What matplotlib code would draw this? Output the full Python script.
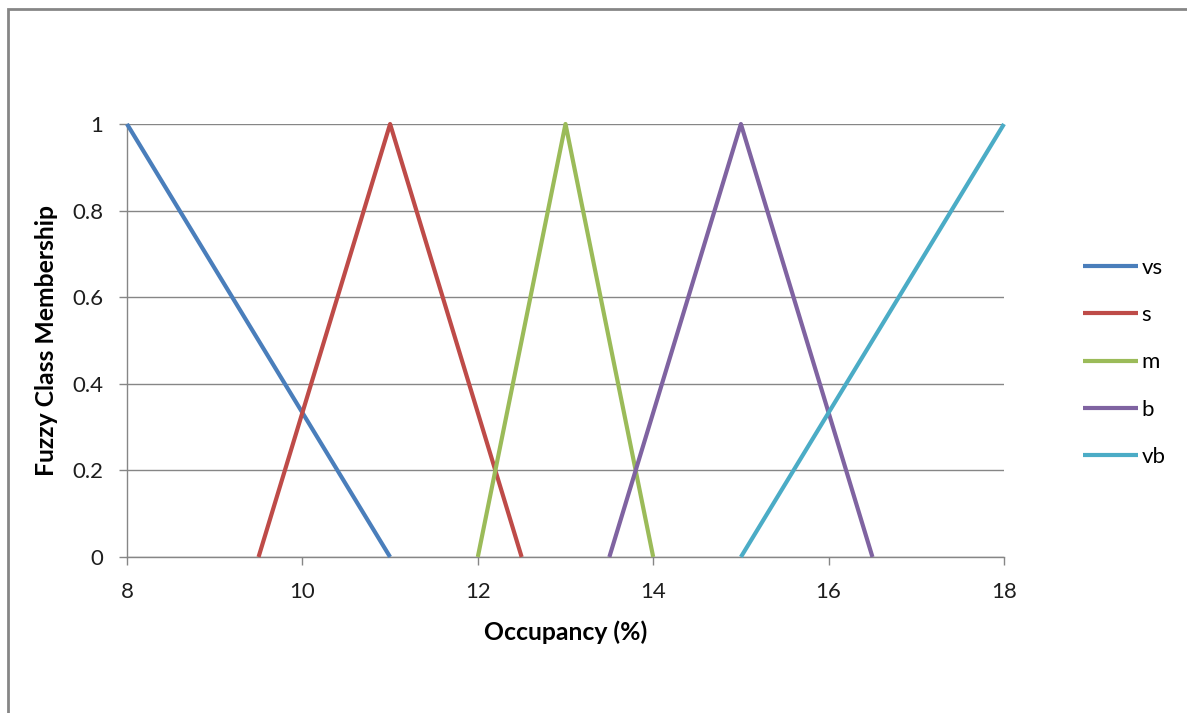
import matplotlib.pyplot as plt
from matplotlib.patches import Rectangle

# membership functions of the occupancy classes (breakpoints)
vs_x = [8, 11]
vs_y = [1, 0]
s_x = [9.5, 11, 12.5]
s_y = [0, 1, 0]
m_x = [12, 13, 14]
m_y = [0, 1, 0]
b_x = [13.5, 15, 16.5]
b_y = [0, 1, 0]
vb_x = [15, 18]
vb_y = [0, 1]

labels = ['vs', 's', 'm', 'b', 'vb']
colors = ['#4a7ebb', '#be4b48', '#9bbb59', '#7f63a1', '#4bacc6']
x_ticks = [8, 10, 12, 14, 16, 18]
y_ticks = [0, 0.2, 0.4, 0.6, 0.8, 1]
y_ticklabels = ['0', '0.2', '0.4', '0.6', '0.8', '1']

plt.rcParams['font.family'] = ['Lato', 'DejaVu Sans']
W, H = 1187, 713
fig = plt.figure(figsize=(W / 100, H / 100), dpi=100)
ax = fig.add_axes([127 / W, 1 - 557 / H, (1004 - 127) / W, (557 - 124) / H])

grey = '#868686'
series = [(vs_x, vs_y), (s_x, s_y), (m_x, m_y), (b_x, b_y), (vb_x, vb_y)]
for (xs, ys), lab, col in zip(series, labels, colors):
    ax.plot(xs, ys, color=col, lw=3, label=lab, solid_capstyle='butt', clip_on=False, zorder=3)

ax.set_xlim(8, 18)
ax.set_ylim(0, 1)
ax.set_xticks(x_ticks)
ax.set_yticks(y_ticks)
ax.set_yticklabels(y_ticklabels)
ax.grid(axis='y', color=grey, lw=1)
ax.set_axisbelow(True)
for side in ['top', 'right']:
    ax.spines[side].set_visible(False)
for side in ['left', 'bottom']:
    ax.spines[side].set_color(grey)
    ax.spines[side].set_linewidth(1)
ax.tick_params(axis='both', direction='out', length=6, width=1, color=grey, labelsize=16, labelcolor='#1e1e1e')
ax.tick_params(axis='y', pad=11)
ax.tick_params(axis='x', pad=12)

ax.set_xlabel('Occupancy (%)', fontsize=17.8, fontweight='bold', labelpad=13)
ax.set_ylabel('Fuzzy Class Membership', fontsize=17.8, fontweight='bold', labelpad=10)

leg = ax.legend(loc='center left', bbox_to_anchor=(1083 / W, 1 - 362.5 / H), bbox_transform=fig.transFigure,
                frameon=False, fontsize=16, handlelength=2.48, handletextpad=0.15, labelspacing=1.23,
                borderpad=0, borderaxespad=0)

# outer chart border
fig.add_artist(Rectangle((8 / W, -0.1), 1.0, 1 - 9 / H + 0.1, transform=fig.transFigure,
                         fill=False, edgecolor=grey, lw=2))

fig.savefig('out.png', dpi=100)
